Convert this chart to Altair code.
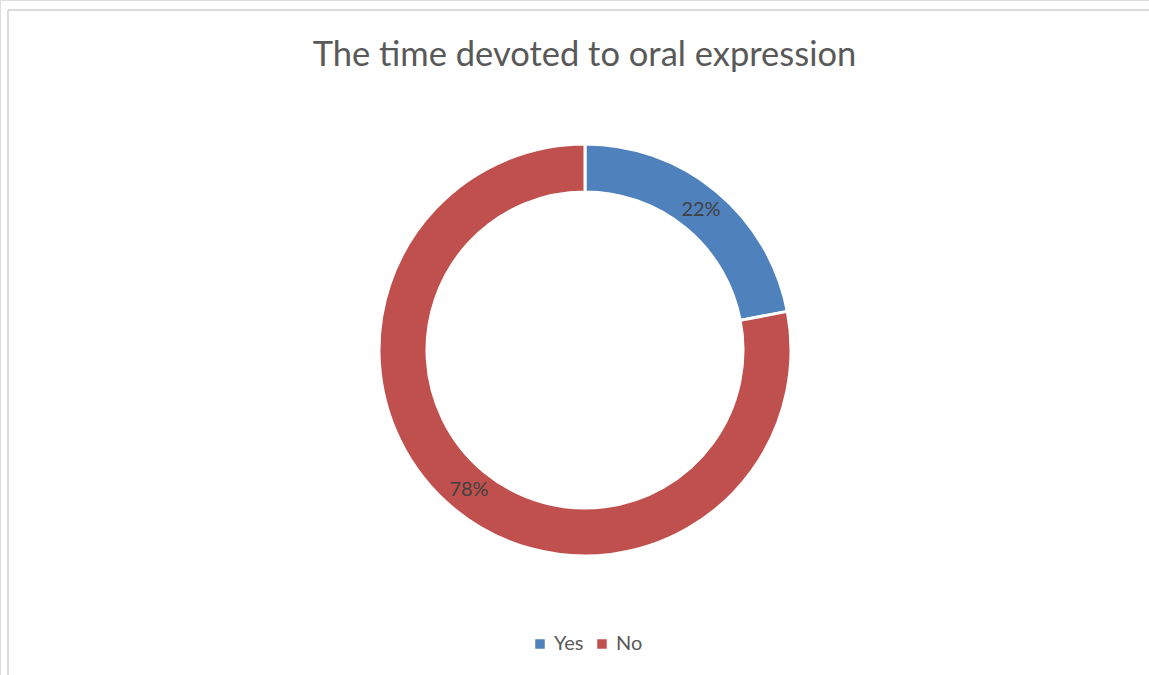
import altair as alt
import pandas as pd

# Survey answers and their shares (percent)
categories = ["Yes", "No"]
shares = [22, 78]
labels = ["22%", "78%"]
colors = ["#4F81BD", "#C0504D"]

df = pd.DataFrame({
    "answer": categories,
    "share": shares,
    "label": labels,
    "rank": list(range(len(categories))),
})

W, H = 1149, 675
CX, CY = 585, 350

base = alt.Chart(df).encode(
    theta=alt.Theta("share:Q", stack=True),
    order=alt.Order("rank:O"),
    x=alt.value(CX),
    y=alt.value(CY),
)

ring = base.mark_arc(
    outerRadius=206, innerRadius=158, stroke="white", strokeWidth=3
).encode(
    color=alt.Color(
        "answer:N",
        scale=alt.Scale(domain=categories, range=colors),
        sort=categories,
        legend=alt.Legend(
            title=None,
            orient="none",
            legendX=530,
            legendY=634,
            direction="horizontal",
            symbolType="square",
            symbolSize=90,
            symbolStrokeWidth=0,
            labelFontSize=20,
            labelFont="Lato",
            labelColor="#595959",
            columnPadding=8,
            labelOffset=4,
        ),
    )
)

pct = base.mark_text(
    radius=182, fontSize=20, font="Lato", color="#404040"
).encode(text="label:N")

# Chart frame lines (top and left edges)
frame_top = alt.Chart(df).mark_rule(color="#d9d9d9", strokeWidth=1.5).encode(
    x=alt.value(8), x2=alt.value(W), y=alt.value(10)
)
frame_left = alt.Chart(df).mark_rule(color="#d9d9d9", strokeWidth=1.5).encode(
    x=alt.value(8), y=alt.value(10), y2=alt.value(H)
)

chart = alt.layer(frame_top, frame_left, ring, pct).properties(
    width=W,
    height=H,
    title=alt.TitleParams(
        "The time devoted to oral expression",
        fontSize=34.5,
        font="Lato",
        fontWeight="normal",
        color="#595959",
        anchor="middle",
        dx=10,
        offset=-73,
    ),
    padding=0,
    autosize=alt.AutoSizeParams(type="none"),
).configure_view(stroke=None).configure(background="white")

chart.save("out.html", embed_options={"renderer": "svg", "actions": False})
